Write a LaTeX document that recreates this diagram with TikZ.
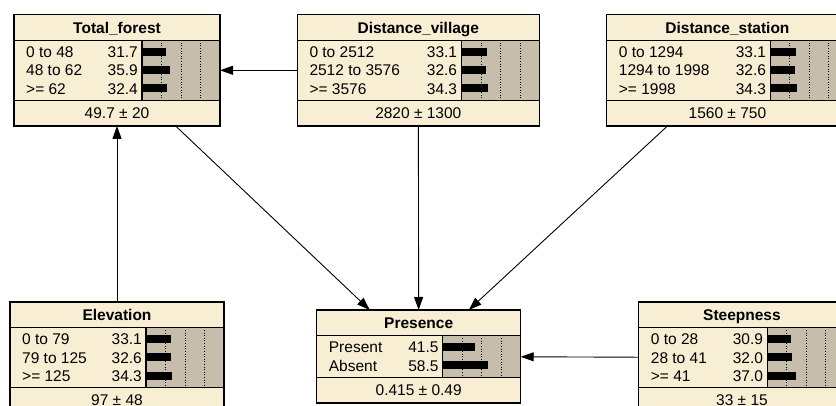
\documentclass[tikz,border=0pt]{standalone}
\usepackage{fontspec}
\setmainfont{Liberation Sans}
\usepackage{tikz}
\usetikzlibrary{arrows.meta}

\definecolor{nodefill}{RGB}{248,238,211}
\definecolor{barfill}{RGB}{198,190,170}

% #1 name, #2 left, #3 top, #4 width, #5 number of rows, #6 title, #7 footer, #8 rows
\newcommand{\netnode}[8]{%
	\pgfmathsetmacro\rowh{5+18.4*#5}
	\pgfmathsetmacro\boxh{51+\rowh}
	\pgfmathsetmacro\barl{#2+#4-78}
	\node [netbox,minimum width=#4pt,minimum height=\boxh pt] (#1) at (#2,#3) {};
	\node [titletext] (#1-title) at ({#2+#4/2},{#3+18.8}) {#6};
	\draw [sep] (#2,{#3+25.5}) -- ({#2+#4},{#3+25.5});
	\draw [sep,fill=barfill] (\barl,{#3+25.5}) rectangle ({#2+#4},{#3+25.5+\rowh});
	\foreach \q in {0.25,0.5,0.75}
		\draw [grid] ({\barl+78*\q},{#3+25.5}) -- ++(0,\rowh);
	\draw [sep] (#2,{#3+25.5+\rowh}) -- ({#2+#4},{#3+25.5+\rowh});
	\foreach \lab/\val [count=\i] in {#8} {
		\node [celltext,anchor=base west] (#1-l\i) at ({#2+12},{#3+42.8+18.4*(\i-1)}) {\lab};
		\node [celltext,anchor=base east] (#1-v\i) at ({\barl-4},{#3+42.8+18.4*(\i-1)}) {\val};
		\fill ({\barl},{#3+33+18.4*(\i-1)}) rectangle ++({0.77*\val},8);
	}
	\node [celltext,anchor=base] (#1-foot) at ({#2+#4/2},{#3+43.5+\rowh}) {#7};
	\draw [netborder] (#1.north west) rectangle (#1.south east);
}

\begin{document}
\begin{tikzpicture}[
	  x=1pt,y=-1pt,
	  netbox/.style={fill=nodefill,anchor=north west,inner sep=0pt,outer sep=0pt},
	  netborder/.style={line width=1.4pt},
	  sep/.style={line width=1.2pt},
	  grid/.style={dotted,line width=0.6pt},
	  titletext/.style={font=\fontsize{15.5}{18}\selectfont\bfseries,anchor=base,inner sep=0pt},
	  celltext/.style={font=\fontsize{15.5}{18}\selectfont,inner sep=0pt},
	  link/.style={line width=0.9pt,-{Triangle[length=13pt,width=9pt]}}
	]
		\useasboundingbox (0,0) rectangle (836,406);
		\clip (0,0) rectangle (836,406);
		\netnode{forest}{14}{14.7}{206}{3}{Total\_forest}{49.7 ± 20}%
			{0 to 48/31.7,48 to 62/35.9,>= 62/32.4}
		\netnode{village}{297.3}{14.7}{242}{3}{Distance\_village}{2820 ± 1300}%
			{0 to 2512/33.1,2512 to 3576/32.6,>= 3576/34.3}
		\netnode{station}{606.7}{14.7}{241.5}{3}{Distance\_station}{1560 ± 750}%
			{0 to 1294/33.1,1294 to 1998/32.6,>= 1998/34.3}
		\netnode{elevation}{10}{302}{214}{3}{Elevation}{97 ± 48}%
			{0 to 79/33.1,79 to 125/32.6,>= 125/34.3}
		\netnode{presence}{316.7}{310}{204}{2}{Presence}{0.415 ± 0.49}%
			{Present/41.5,Absent/58.5}
		\netnode{steepness}{638.7}{302}{206.5}{3}{Steepness}{33 ± 15}%
			{0 to 28/30.9,28 to 41/32.0,>= 41/37.0}
		% links
		\draw [link] (village) -- (forest);
		\draw [link] (elevation) -- (forest);
		\draw [link] (forest) -- (presence);
		\draw [link] (village) -- (presence);
		\draw [link] (station) -- (presence);
		\draw [link] (steepness) -- (presence);
	\end{tikzpicture}
\end{document}
